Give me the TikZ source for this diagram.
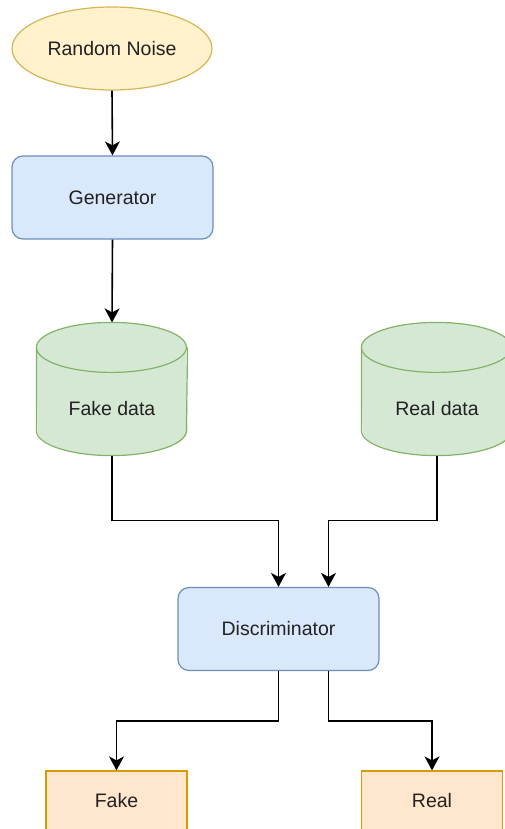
\documentclass[tikz,border=0pt]{standalone}
\usepackage{fontspec}
\setmainfont{Liberation Sans}
\usetikzlibrary{arrows.meta,calc,shapes.geometric}
\definecolor{noisefill}{HTML}{FFF2CC}
\definecolor{noisedraw}{HTML}{D6B656}
\definecolor{bluefill}{HTML}{DAE8FC}
\definecolor{bluedraw}{HTML}{6C8EBF}
\definecolor{greenfill}{HTML}{D5E8D4}
\definecolor{greendraw}{HTML}{82B366}
\definecolor{orangefill}{HTML}{FFE6CC}
\definecolor{orangedraw}{HTML}{D79B00}
\definecolor{txt}{HTML}{222222}
\tikzset{
  base/.style={font=\fontsize{19.5}{23}\selectfont, text=txt, line width=1.2pt, inner sep=0pt},
  noisebox/.style={base, ellipse, draw=noisedraw, fill=noisefill, minimum width=200pt, minimum height=83pt},
  procbox/.style={base, rectangle, rounded corners=11pt, draw=bluedraw, fill=bluefill, minimum width=201pt, minimum height=83pt},
  cylframe/.style={base, rectangle, minimum width=150pt, minimum height=132pt},
  cylpaint/.style={line width=1.2pt, draw=greendraw, fill=greenfill},
  outbox/.style={base, rectangle, draw=orangedraw, fill=orangefill, minimum width=141pt, minimum height=59pt},
  link/.style={line width=1.6pt, draw=black, -{Stealth[length=14pt, width=15pt, inset=4pt]}}
}
% data store drawn as a cylinder inside a frame node
\newcommand{\datastore}[2]{%
  \fill[cylpaint, draw=none] ($(#1.north west)+(0,25)$) arc[start angle=180, end angle=0, x radius=75pt, y radius=25pt]
      -- ($(#1.south east)+(0,-25)$) arc[start angle=0, end angle=-180, x radius=75pt, y radius=25pt] -- cycle;
  \draw[cylpaint, fill=none] ($(#1.north west)+(0,25)$) arc[start angle=180, end angle=-180, x radius=75pt, y radius=25pt];
  \draw[cylpaint, fill=none] ($(#1.north west)+(0,25)$) -- ($(#1.south west)+(0,-25)$)
      arc[start angle=180, end angle=360, x radius=75pt, y radius=25pt] -- ($(#1.north east)+(0,25)$);
  \node[base] at ($(#1.center)+(0,20)$) {#2};%
}
\begin{document}
\begin{tikzpicture}[x=1pt, y=-1pt]
  \useasboundingbox (0,0) rectangle (505,829);
  \clip (0,0) rectangle (505,829);

  \node[noisebox] (noise) at (112,48.5) {Random Noise};
  \node[procbox] (gen) at (112.5,197.5) {Generator};

  \node[cylframe] (fake) at (112,389) {};
  \datastore{fake}{Fake data}
  \node[cylframe] (real) at (437,389) {};
  \datastore{real}{Real data}

  \node[procbox] (disc) at (278.5,629) {Discriminator};

  \node[outbox] (fakeout) at (116.5,800.5) {Fake};
  \node[outbox] (realout) at (432,800.5) {Real};

  \draw[link] (noise.south) -- (gen.north);
  \draw[link] (gen.south) -- (fake.north);
  \draw[link] (fake.south) -- ++(0,65) -| (disc.north);
  \draw[link] (real.south) -- ++(0,65) -| ($(disc.north)+(50,0)$);
  \draw[link] (disc.south) -- ++(0,50) -| (fakeout.north);
  \draw[link] ($(disc.south)+(50,0)$) -- ++(0,50) -| (realout.north);
\end{tikzpicture}
\end{document}
